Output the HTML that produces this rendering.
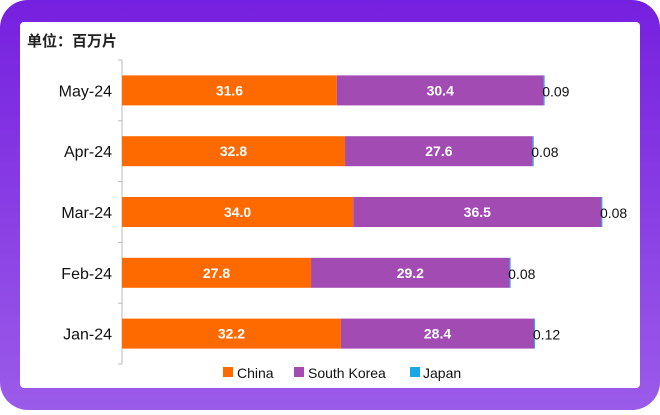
<!DOCTYPE html>
<html><head><meta charset="utf-8"><style>
html,body{margin:0;padding:0;}
body{width:660px;height:410px;overflow:hidden;background:#fff;font-family:"Liberation Sans","Noto Sans CJK SC",sans-serif;}
</style></head><body>
<svg width="660" height="410" xmlns="http://www.w3.org/2000/svg">
<defs><linearGradient id="bg" x1="0" y1="0" x2="0" y2="1"><stop offset="0" stop-color="#7620df"/><stop offset="1" stop-color="#9b5be9"/></linearGradient></defs>
<rect x="0" y="0" width="660" height="410" rx="28" fill="url(#bg)"/>
<rect x="20" y="22" width="620" height="366" rx="4" fill="#fff"/>
<text x="27" y="46" font-size="15" font-weight="bold" fill="#222">单位：百万片</text>
<g id="plot"></g>
<g font-size="14" fill="#111">
<rect x="223" y="367" width="10" height="10" fill="#ff6a00"/>
<text x="237" y="378">China</text>
<rect x="294" y="367" width="10" height="10" fill="#a24bb3"/>
<text x="308" y="378">South Korea</text>
<rect x="410" y="367" width="10" height="10" fill="#1aa7e8"/>
<text x="423" y="378">Japan</text>
</g>
</svg>
<script>
const categories=["May-24","Apr-24","Mar-24","Feb-24","Jan-24"];
const china=[31.6,32.8,34.0,27.8,32.2];
const korea=[30.4,27.6,36.5,29.2,28.4];
const japan=[0.09,0.08,0.08,0.08,0.12];
const NS="http://www.w3.org/2000/svg";
const g=document.getElementById("plot");
const x0=122,scale=6.8,top0=60,band=60.8,bh=30;
const xs=v=>x0+v*scale;
const yc=i=>top0+band*(i+0.5);
function el(t,a){const e=document.createElementNS(NS,t);for(const k in a)e.setAttribute(k,a[k]);g.appendChild(e);return e;}
const ax=el("line",{x1:x0,y1:top0,x2:x0,y2:top0+band*categories.length,stroke:"#bbb","stroke-width":1});


for(let i=0;i<=categories.length;i++){
 const t=el("line",{x1:x0-4,x2:x0,y1:top0+band*i,y2:top0+band*i,stroke:"#bbb"});
 
 
}
categories.forEach((c,i)=>{
 const y=yc(i);
 const l=el("text",{x:x0-10,y:y+6,"text-anchor":"end","font-size":16,fill:"#111"});l.textContent=c;
 
 
 const b1=el("rect",{x:xs(0),y:y-bh/2,width:xs(china[i])-xs(0),height:bh,fill:"#ff6a00"});
 
 
 const b2=el("rect",{x:xs(china[i]),y:y-bh/2,width:xs(china[i]+korea[i])-xs(china[i]),height:bh,fill:"#a24bb3"});
 
 
 const e=china[i]+korea[i];
 const b3=el("rect",{x:xs(e),y:y-bh/2,width:Math.max(1,xs(e+japan[i])-xs(e)),height:bh,fill:"#1aa7e8"});
 
 
 const t1=el("text",{x:(xs(0)+xs(china[i]))/2,y:y+5,"text-anchor":"middle","font-size":14,"font-weight":"bold",fill:"#fff"});t1.textContent=china[i].toFixed(1);
 
 
 const t2=el("text",{x:(xs(china[i])+xs(e))/2,y:y+5,"text-anchor":"middle","font-size":14,"font-weight":"bold",fill:"#fff"});t2.textContent=korea[i].toFixed(1);
 
 
 const t3=el("text",{x:xs(e+japan[i])-2,y:y+6,"font-size":14,fill:"#111"});t3.textContent=String(japan[i]);
 
 
});
</script>
</body></html>
